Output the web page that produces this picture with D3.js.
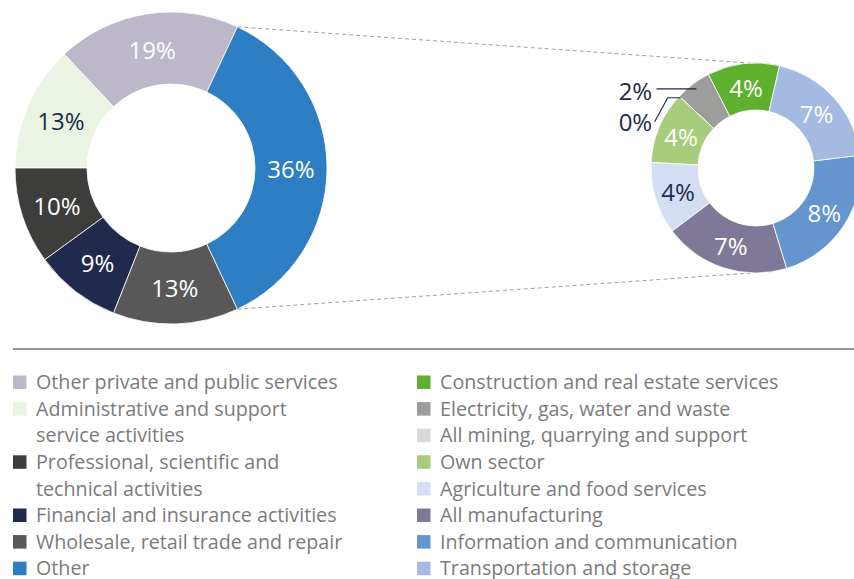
<!DOCTYPE html>
<meta charset="utf-8">
<style>
  body { margin: 0; background: #fff; }
  svg { display: block; font-family: "Open Sans", "Noto Sans", sans-serif; }
  .slice { stroke: #fff; stroke-width: 0.8px; }
  .pct { font-size: 24px; text-anchor: middle; dominant-baseline: central; }
  .legend text { font-size: 19.7px; fill: #7b7b7b; }
</style>
<body>
<script src="https://d3js.org/d3.v7.min.js"></script>
<svg id="chart" width="854" height="579"></svg>
<script>

// left donut: all sectors
var mainLabels = [["Other private and public services"],
                  ["Administrative and support", "service activities"],
                  ["Professional, scientific and", "technical activities"],
                  ["Financial and insurance activities"],
                  ["Wholesale, retail trade and repair"],
                  ["Other"]];
var mainValues = [19, 13, 10, 9, 13, 36];
var mainColors = ["#bcb8c9", "#ebf3e2", "#3d3d3b", "#1f2a4e", "#585858", "#2e7ec4"];
var mainText   = ["#fff", "#1f2a4e", "#fff", "#fff", "#fff", "#fff"];

// right donut: breakdown of "Other"
var otherLabels = ["Construction and real estate services",
                   "Electricity, gas, water and waste",
                   "All mining, quarrying and support",
                   "Own sector",
                   "Agriculture and food services",
                   "All manufacturing",
                   "Information and communication",
                   "Transportation and storage"];
var otherValues = [4, 2, 0, 4, 4, 7, 8, 7];
var otherColors = ["#5eb02f", "#9d9d9b", "#d9d9d9", "#a7cd7c", "#d4ddf2", "#7f7997", "#6595cf", "#a4bae0"];
var otherText   = ["#fff", null, null, "#fff", "#1f2a4e", "#fff", "#fff", "#fff"];

var svg = d3.select("#chart");
var deg = Math.PI / 180;

// ---- left donut
var c1 = {x: 171, y: 168}, R1 = 156, r1 = 84;
var total1 = d3.sum(mainValues);
var otherShare = mainValues[mainValues.length - 1] / total1;
var a0 = Math.PI / 2 - otherShare * Math.PI;   // "Other" centred at 3 o'clock

var pie1 = d3.pie().sort(null).value(function(d) { return d; })
  .startAngle(a0).endAngle(a0 - 2 * Math.PI);
var arc1 = d3.arc().innerRadius(r1).outerRadius(R1);
var arcs1 = pie1(mainValues);

var g1 = svg.append("g").attr("transform", "translate(" + c1.x + "," + c1.y + ")");
g1.selectAll("path").data(arcs1).enter().append("path")
  .attr("class", "slice")
  .attr("d", arc1)
  .attr("fill", function(d, i) { return mainColors[i]; });
g1.selectAll("text").data(arcs1).enter().append("text")
  .attr("class", "pct")
  .attr("transform", function(d) { return "translate(" + arc1.centroid(d) + ")"; })
  .attr("fill", function(d, i) { return mainText[i]; })
  .text(function(d) { return Math.round(d.value / total1 * 100) + "%"; });

// ---- right donut
var c2 = {x: 756, y: 168}, R2 = 105, r2 = 58;
var total2 = d3.sum(otherValues);
var b0 = 13 * deg;
var pie2 = d3.pie().sort(null).value(function(d) { return d; })
  .startAngle(b0).endAngle(b0 - 2 * Math.PI);
var arc2 = d3.arc().innerRadius(r2).outerRadius(R2);
var arcs2 = pie2(otherValues);

// connector lines
function pt(c, r, a) { return [c.x + r * Math.sin(a), c.y - r * Math.cos(a)]; }
var otherArc = arcs1[arcs1.length - 1];
var links = [[pt(c1, R1, otherArc.endAngle), pt(c2, R2, 11 * deg)],
             [pt(c1, R1, otherArc.startAngle), pt(c2, R2, 170 * deg)]];
svg.selectAll("line.conn").data(links).enter().append("line")
  .attr("class", "conn")
  .attr("x1", function(d) { return d[0][0]; }).attr("y1", function(d) { return d[0][1]; })
  .attr("x2", function(d) { return d[1][0]; }).attr("y2", function(d) { return d[1][1]; })
  .attr("stroke", "#a0a0a0").attr("stroke-width", 1).attr("stroke-dasharray", "4,3");

var g2 = svg.append("g").attr("transform", "translate(" + c2.x + "," + c2.y + ")");
g2.selectAll("path").data(arcs2).enter().append("path")
  .attr("class", "slice")
  .attr("d", arc2)
  .attr("fill", function(d, i) { return otherColors[i]; });
g2.selectAll("text.pct").data(arcs2.filter(function(d, i) { return otherText[i]; }))
  .enter().append("text")
  .attr("class", "pct")
  .attr("transform", function(d) { return "translate(" + arc2.centroid(d) + ")"; })
  .attr("fill", function(d) { return otherText[d.index]; })
  .text(function(d) { return Math.round(d.value) + "%"; });

// small slices: outside labels with leader lines
var navy = "#1f2a4e";
var elec = arcs2[1], mine = arcs2[2];
var pe = pt({x: 0, y: 0}, 99, (elec.startAngle + elec.endAngle) / 2);
var pm = pt({x: 0, y: 0}, R2 - 2, mine.startAngle);
g2.append("path")
  .attr("d", "M" + (pe[0] - 40) + "," + pe[1] + "H" + pe[0])
  .attr("stroke", navy).attr("stroke-width", 1.2).attr("fill", "none");
g2.append("path")
  .attr("d", "M" + (pm[0] - 26) + "," + (pm[1] + 24) + "L" + (pm[0] - 13) + "," + pm[1] + "H" + pm[0])
  .attr("stroke", navy).attr("stroke-width", 1.2).attr("fill", "none");
g2.append("text").attr("class", "pct").attr("fill", navy)
  .attr("x", pe[0] - 61).attr("y", pe[1] + 2)
  .text(Math.round(elec.value) + "%");
g2.append("text").attr("class", "pct").attr("fill", navy)
  .attr("x", pe[0] - 61).attr("y", pe[1] + 33)
  .text(Math.round(mine.value) + "%");

// ---- divider
svg.append("line")
  .attr("x1", 13).attr("x2", 854).attr("y1", 349).attr("y2", 349)
  .attr("stroke", "#6c7390").attr("stroke-width", 1.6);

// ---- legend
var rowH = 26.6, rowY = 382;
function legend(x, labels, colors) {
  var g = svg.append("g").attr("class", "legend");
  var line = 0;
  labels.forEach(function(lines, i) {
    var y = rowY + line * rowH;
    g.append("rect").attr("x", x).attr("y", y - 6.5).attr("width", 13.5).attr("height", 13.5)
      .attr("fill", colors[i]);
    lines.forEach(function(t, j) {
      g.append("text").attr("x", x + 23).attr("y", y + (j * rowH) + 7.2).text(t);
    });
    line += lines.length;
  });
}
legend(13, mainLabels, mainColors);
legend(417, otherLabels.map(function(d) { return [d]; }), otherColors);

</script>
</body>
